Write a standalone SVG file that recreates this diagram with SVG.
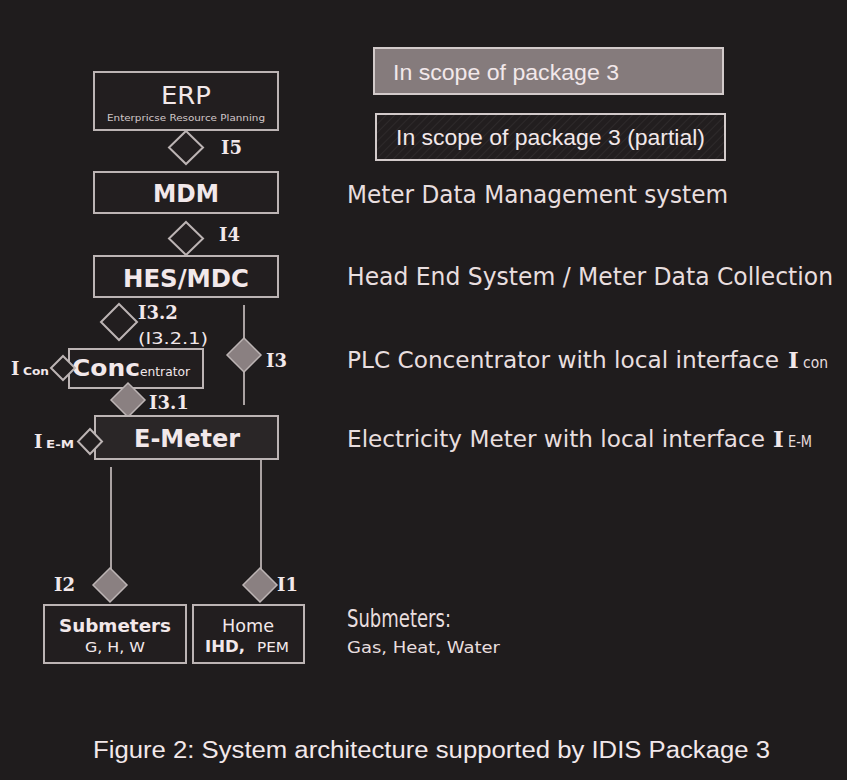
<svg xmlns="http://www.w3.org/2000/svg" width="847" height="780" viewBox="0 0 847 780">
<defs>
<pattern id="hatch" width="6" height="6" patternUnits="userSpaceOnUse" patternTransform="rotate(45)">
<rect width="6" height="6" fill="#221e1f"/>
<line x1="0" y1="0" x2="0" y2="6" stroke="#2e2a2b" stroke-width="2"/>
</pattern>
</defs>
<style>
.box{fill:#221e1f;stroke:#bcb4b4;stroke-width:2}
.boxl{fill:#2a2627;stroke:#bcb4b4;stroke-width:2}
.dia{fill:#221e1f;stroke:#bcb4b4;stroke-width:2}
.diaf{fill:#8a8081;stroke:#bcb4b4;stroke-width:1.5}
.ln{stroke:#aaa2a2;stroke-width:2;fill:none}
.t{fill:#f2e8ea;font-family:"DejaVu Sans",Verdana,sans-serif}
.b{font-weight:bold}
.s{fill:#f2e8ea;font-family:"DejaVu Serif","Liberation Serif",serif;font-weight:bold}
.a{fill:#f2e8ea;font-family:"Liberation Sans",Arial,sans-serif}
.d{fill:#e8dedf}
</style>
<rect width="847" height="780" fill="#1f1c1d"/>

<g id="legend-full">
<rect x="374" y="48" width="349" height="46" fill="#857b7c" stroke="#d2caca" stroke-width="2"/>
<text class="a" x="393" y="80" font-size="22" textLength="226" lengthAdjust="spacingAndGlyphs">In scope of package 3</text>
</g>
<g id="legend-partial">
<rect x="376" y="114" width="349" height="46" fill="url(#hatch)" stroke="#d2caca" stroke-width="2"/>
<text class="a" x="396" y="145" font-size="22" textLength="309" lengthAdjust="spacingAndGlyphs">In scope of package 3 (partial)</text>
</g>

<g id="connectors">
<line class="ln" x1="244" y1="305" x2="244" y2="405"/>
<line class="ln" x1="111" y1="467" x2="111" y2="570"/>
<line class="ln" x1="261" y1="459" x2="261" y2="570"/>
</g>

<g id="erp">
<rect class="box" x="94" y="72" width="184" height="58"/>
<text class="t" x="186" y="104" font-size="25" text-anchor="middle" textLength="50" lengthAdjust="spacingAndGlyphs">ERP</text>
<text class="t" x="186" y="121" font-size="8" text-anchor="middle" textLength="158" lengthAdjust="spacingAndGlyphs" fill-opacity="0.85">Enterpricse Resource Planning</text>
</g>
<g id="i5">
<polygon class="dia" points="186,131 203,147.5 186,164 169,147.5"/>
<text class="s" x="221" y="154" font-size="18">I5</text>
</g>
<g id="mdm">
<rect class="box" x="94" y="172" width="184" height="41"/>
<text class="t b" x="186" y="202" font-size="24" text-anchor="middle" textLength="66" lengthAdjust="spacingAndGlyphs">MDM</text>
</g>
<g id="i4">
<polygon class="dia" points="186,222 203,238.5 186,255 169,238.5"/>
<text class="s" x="219" y="241" font-size="18">I4</text>
</g>
<g id="hes">
<rect class="box" x="94" y="256" width="184" height="41"/>
<text class="t b" x="186" y="287" font-size="24" text-anchor="middle" textLength="126" lengthAdjust="spacingAndGlyphs">HES/MDC</text>
</g>
<g id="i32">
<polygon class="dia" points="119,304 137,322 119,340 101,322"/>
<text class="s" x="138" y="319" font-size="18">I3.2</text>
<text class="t" x="138" y="344" font-size="16" fill="#d8cfd0" textLength="70" lengthAdjust="spacingAndGlyphs">(I3.2.1)</text>
</g>
<g id="i3">
<polygon class="diaf" points="244,338 261,355 244,372 227,355"/>
<text class="s" x="266" y="367" font-size="18">I3</text>
</g>
<g id="concentrator">
<rect class="box" x="69" y="349" width="134" height="39"/>
<text class="t b" x="72" y="376" font-size="23" textLength="68" lengthAdjust="spacingAndGlyphs">Conc</text>
<text class="t" x="140" y="376" font-size="13" fill="#d8cfd0" textLength="50" lengthAdjust="spacingAndGlyphs">entrator</text>
</g>
<g id="icon">
<polygon class="dia" points="63,356 75,368 63,380 51,368"/>
<text class="s" x="11" y="375" font-size="18">I</text>
<text class="t b" x="23" y="375" font-size="11" textLength="26" lengthAdjust="spacingAndGlyphs">Con</text>
</g>
<g id="i31">
<polygon class="diaf" points="128,383 145,400 128,417 111,400"/>
<text class="s" x="149" y="409" font-size="18">I3.1</text>
</g>
<g id="emeter">
<rect class="boxl" x="95" y="416" width="183" height="43"/>
<text class="t b" x="187" y="447" font-size="25" text-anchor="middle" textLength="106" lengthAdjust="spacingAndGlyphs">E-Meter</text>
</g>
<g id="iem">
<polygon class="dia" points="90,429 102,441.5 90,454 78,441.5"/>
<text class="s" x="34" y="448" font-size="18">I</text>
<text class="t b" x="46" y="448" font-size="11" textLength="28" lengthAdjust="spacingAndGlyphs">E-M</text>
</g>
<g id="i2">
<polygon class="diaf" points="110,568 127,585 110,602 93,585"/>
<text class="s" x="54" y="591" font-size="18">I2</text>
</g>
<g id="i1">
<polygon class="diaf" points="260,568 277,585 260,602 243,585"/>
<text class="s" x="277" y="591" font-size="18">I1</text>
</g>
<g id="submeters">
<rect class="box" x="44" y="605" width="142" height="58"/>
<text class="t b" x="115" y="632" font-size="18" text-anchor="middle" textLength="112" lengthAdjust="spacingAndGlyphs">Submeters</text>
<text class="t" x="115" y="652" font-size="14" text-anchor="middle" fill="#d8cfd0" textLength="60" lengthAdjust="spacingAndGlyphs">G, H, W</text>
</g>
<g id="home">
<rect class="box" x="193" y="605" width="111" height="58"/>
<text class="t" x="248" y="632" font-size="17" text-anchor="middle" fill="#d8cfd0" textLength="52" lengthAdjust="spacingAndGlyphs">Home</text>
<text class="t b" x="205" y="652" font-size="15" textLength="40" lengthAdjust="spacingAndGlyphs">IHD,</text>
<text class="t" x="257" y="652" font-size="14" fill="#d8cfd0" textLength="32" lengthAdjust="spacingAndGlyphs">PEM</text>
</g>

<g id="descriptions">
<text class="t d" x="347" y="203" font-size="24" textLength="381" lengthAdjust="spacingAndGlyphs">Meter Data Management system</text>
<text class="t d" x="347" y="285" font-size="24" textLength="486" lengthAdjust="spacingAndGlyphs">Head End System / Meter Data Collection</text>
<text class="t d" x="347" y="368" font-size="22.3" textLength="432" lengthAdjust="spacingAndGlyphs">PLC Concentrator with local interface</text>
<text class="s" x="788" y="368" font-size="23" fill="#e8dedf">I</text>
<text class="t d" x="803" y="368" font-size="15" textLength="25" lengthAdjust="spacingAndGlyphs">con</text>
<text class="t d" x="347" y="447" font-size="23" textLength="418" lengthAdjust="spacingAndGlyphs">Electricity Meter with local interface</text>
<text class="s" x="773" y="447" font-size="23" fill="#e8dedf">I</text>
<text class="t d" x="788" y="447" font-size="15" textLength="24" lengthAdjust="spacingAndGlyphs">E-M</text>
<text class="t d" x="347" y="627" font-size="24" textLength="104" lengthAdjust="spacingAndGlyphs">Submeters:</text>
<text class="t d" x="347" y="653" font-size="16" textLength="153" lengthAdjust="spacingAndGlyphs">Gas, Heat, Water</text>
</g>

<g id="caption">
<text class="a" x="93" y="758" font-size="23" textLength="677" lengthAdjust="spacingAndGlyphs" fill="#ece2e4">Figure 2: System architecture supported by IDIS Package 3</text>
</g>
</svg>
